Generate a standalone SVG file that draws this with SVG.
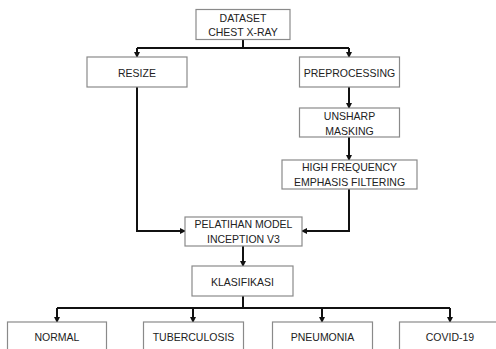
<svg xmlns="http://www.w3.org/2000/svg" width="496" height="349" viewBox="0 0 496 349">
<style>
.box{fill:#fff;stroke:#8a8a8a;stroke-width:1.2}
.t{font-family:"Liberation Sans",Arial,sans-serif;font-size:10.5px;fill:#222;text-anchor:middle;dominant-baseline:central}
.c{fill:none;stroke:#111;stroke-width:2}
</style>
<defs>
<marker id="a" markerWidth="6" markerHeight="6" refX="5" refY="3" orient="auto" markerUnits="userSpaceOnUse">
<path d="M0,0 L6,3 L0,6 Z" fill="#111"/>
</marker>
</defs>
<rect width="496" height="349" fill="#fff"/>
<g id="connectors">
<path class="c" d="M243,39 V48"/>
<path class="c" d="M137,48 H349"/>
<path class="c" d="M137,48 V57" marker-end="url(#a)"/>
<path class="c" d="M349,48 V57" marker-end="url(#a)"/>
<path class="c" d="M349,87 V108" marker-end="url(#a)"/>
<path class="c" d="M349,137 V160" marker-end="url(#a)"/>
<path class="c" d="M137,87 V231 H185" marker-end="url(#a)"/>
<path class="c" d="M349,189 V231 H302" marker-end="url(#a)"/>
<path class="c" d="M243,246 V266" marker-end="url(#a)"/>
<path class="c" d="M243,296 V308"/>
<path class="c" d="M57,308 H450"/>
<path class="c" d="M57,308 V322" marker-end="url(#a)"/>
<path class="c" d="M193,308 V322" marker-end="url(#a)"/>
<path class="c" d="M322,308 V322" marker-end="url(#a)"/>
<path class="c" d="M450,308 V322" marker-end="url(#a)"/>
</g>
<g id="dataset"><rect class="box" x="196" y="9.5" width="94" height="30"/><text class="t" x="243" y="17.5">DATASET</text><text class="t" x="243" y="32">CHEST X-RAY</text></g>
<g id="resize"><rect class="box" x="87" y="57" width="100" height="30"/><text class="t" x="137" y="72.5">RESIZE</text></g>
<g id="preprocessing"><rect class="box" x="299.5" y="57" width="100" height="30"/><text class="t" x="349.5" y="72.5">PREPROCESSING</text></g>
<g id="unsharp"><rect class="box" x="299.5" y="108" width="100" height="29"/><text class="t" x="349.5" y="115.5">UNSHARP</text><text class="t" x="349.5" y="130.5">MASKING</text></g>
<g id="hfef"><rect class="box" x="282" y="160" width="135" height="29"/><text class="t" x="349.5" y="167">HIGH FREQUENCY</text><text class="t" x="349.5" y="182">EMPHASIS FILTERING</text></g>
<g id="pelatihan"><rect class="box" x="185" y="217" width="117" height="29"/><text class="t" x="243.5" y="224">PELATIHAN MODEL</text><text class="t" x="243.5" y="239">INCEPTION V3</text></g>
<g id="klasifikasi"><rect class="box" x="192" y="266" width="101" height="30"/><text class="t" x="242.5" y="281.5">KLASIFIKASI</text></g>
<g id="normal"><rect class="box" x="7.5" y="322" width="99" height="40"/><text class="t" x="57" y="337">NORMAL</text></g>
<g id="tuberculosis"><rect class="box" x="143.5" y="322" width="100" height="40"/><text class="t" x="193.5" y="337">TUBERCULOSIS</text></g>
<g id="pneumonia"><rect class="box" x="272.5" y="322" width="100" height="40"/><text class="t" x="322.5" y="337">PNEUMONIA</text></g>
<g id="covid"><rect class="box" x="399.5" y="322" width="100" height="40"/><text class="t" x="450" y="337">COVID-19</text></g>
</svg>
